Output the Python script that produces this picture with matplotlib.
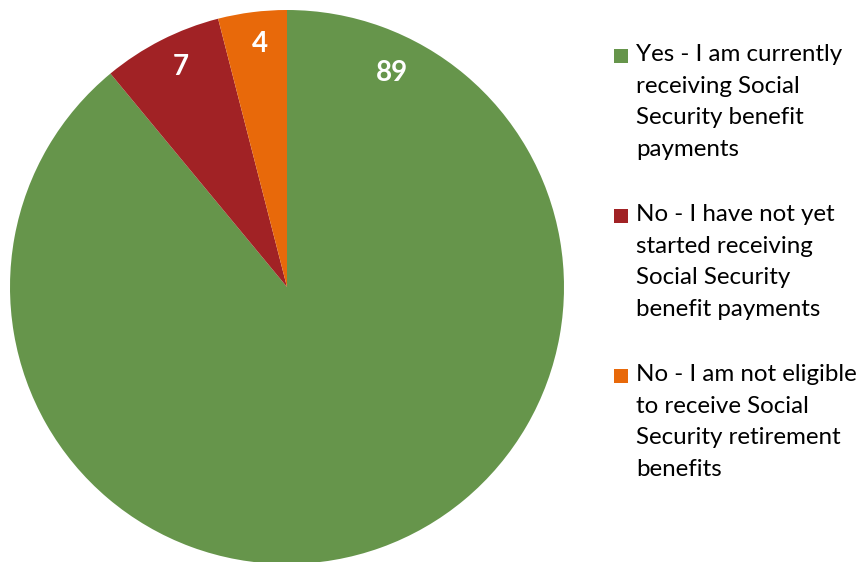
import matplotlib
matplotlib.use("Agg")
import matplotlib.pyplot as plt
from matplotlib.patches import Rectangle

# data
categories = [
    "Yes - I am currently\nreceiving Social\nSecurity benefit\npayments",
    "No - I have not yet\nstarted receiving\nSocial Security\nbenefit payments",
    "No - I am not eligible\nto receive Social\nSecurity retirement\nbenefits",
]
values = [89, 7, 4]
colors = ["#66954B", "#A12225", "#E8690A"]

plt.rcParams['font.family'] = ['Lato', 'DejaVu Sans']

W, H = 863, 562
fig = plt.figure(figsize=(W / 100, H / 100), dpi=100)

# pie centred at (287, 287) px, radius 277 px
cx, cy, r = 287, 287, 277
ax = fig.add_axes([(cx - r) / W, (H - cy - r) / H, 2 * r / W, 2 * r / H])
wedges, _ = ax.pie(values, colors=colors, startangle=90, counterclock=False,
                   wedgeprops=dict(linewidth=0))
ax.set_xlim(-1, 1)
ax.set_ylim(-1, 1)

# data labels, placed like the original (best fit inside)
label_pos = [(0.379, 0.773), (-0.383, 0.794), (-0.097, 0.877)]
for v, (x, y) in zip(values, label_pos):
    ax.text(x, y, str(v), color="white", fontsize=20, fontweight="bold",
            ha="center", va="center")

# legend drawn by hand so the swatch sits on the first line
for i, (lab, c) in enumerate(zip(categories, colors)):
    top = 48 + 160 * i
    fig.text(636 / W, 1 - (top - 4) / H, lab, fontsize=17.4, color="#000000",
             va="top", ha="left", linespacing=1.63)
    fig.patches.append(Rectangle((614 / W, 1 - (top + 15) / H), 14 / W, 14 / H,
                                 transform=fig.transFigure, facecolor=c,
                                 edgecolor="none"))

fig.savefig("out.png", dpi=100)
